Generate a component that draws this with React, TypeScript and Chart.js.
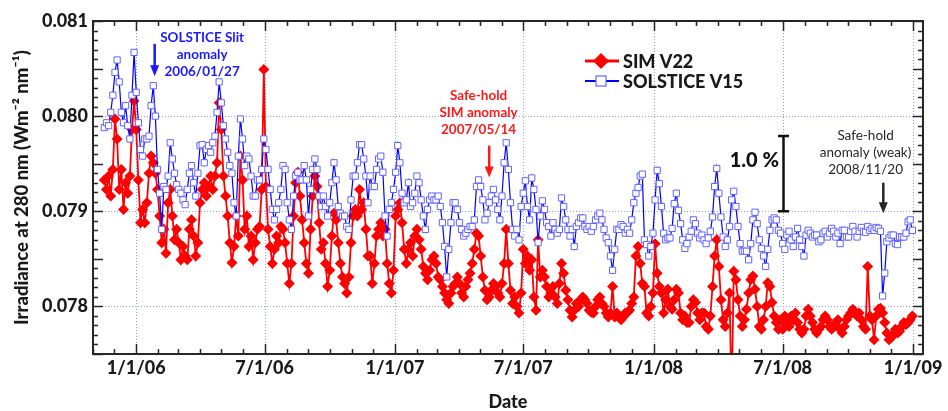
import React, { useEffect, useRef } from 'react';
import { Chart, registerables } from 'chart.js';

Chart.register(...registerables);

// ---------------- data ----------------
// Samples every SAMPLE_STEP_DAYS days starting at FIRST_SAMPLE_DATE.
const FIRST_SAMPLE_DATE = '2005-11-17';
const SAMPLE_STEP_DAYS = 3;

// SIM V22 irradiance at 280 nm (W m^-2 nm^-1)
const simNov05toMay06 = [
  0.07933, 0.07923, 0.07937, 0.07916, 0.07944, 0.07997, 0.07976, 0.07923, 0.07944, 0.07902,
  0.07930, 0.07919, 0.07937, 0.07986, 0.08016, 0.07986, 0.07933, 0.07888, 0.07902, 0.07888,
  0.07909, 0.07940, 0.07958, 0.07951, 0.07940, 0.07923, 0.07895, 0.07867, 0.07881, 0.07856,
  0.07909, 0.07923, 0.07895, 0.07870, 0.07881, 0.07867, 0.07849, 0.07863, 0.07853, 0.07849,
  0.07881, 0.07891, 0.07874, 0.07853, 0.07867, 0.07909, 0.07923, 0.07930, 0.07916, 0.07926,
  0.07937, 0.07923, 0.07937, 0.07951, 0.08014, 0.07986, 0.07937, 0.07916, 0.07895, 0.07867,
  0.07846,
];
const simMay06toNov06 = [
  0.07863, 0.07895, 0.07874, 0.07958, 0.07933, 0.07881, 0.07895, 0.07863, 0.07874, 0.07849,
  0.07867, 0.07881, 0.07884, 0.07923, 0.08049, 0.07926, 0.07881, 0.07863, 0.07845, 0.07860,
  0.07874, 0.07867, 0.07884, 0.07881, 0.07867, 0.07845, 0.07824, 0.07845, 0.07895, 0.07930,
  0.07941, 0.07916, 0.07891, 0.07867, 0.07845, 0.07835, 0.07881, 0.07916, 0.07937, 0.07926,
  0.07888, 0.07860, 0.07867, 0.07845, 0.07821, 0.07838, 0.07874, 0.07898, 0.07891, 0.07867,
  0.07845, 0.07831, 0.07824, 0.07814, 0.07831, 0.07867, 0.07895, 0.07902, 0.07895, 0.07923,
  0.07902, 0.07909, 0.07881, 0.07853,
];
const simNov06toJun07 = [
  0.07853, 0.07824, 0.07845, 0.07874, 0.07881, 0.07888, 0.07874, 0.07881, 0.07845, 0.07824,
  0.07814, 0.07838, 0.07895, 0.07902, 0.07909, 0.07888, 0.07860, 0.07845, 0.07860, 0.07867,
  0.07853, 0.07874, 0.07881, 0.07870, 0.07860, 0.07842, 0.07835, 0.07828, 0.07838, 0.07849,
  0.07853, 0.07845, 0.07831, 0.07828, 0.07821, 0.07814, 0.07807, 0.07803, 0.07814, 0.07821,
  0.07824, 0.07831, 0.07824, 0.07814, 0.07810, 0.07821, 0.07828, 0.07835, 0.07845, 0.07860,
  0.07877, 0.07874, 0.07853, 0.07831, 0.07817, 0.07807, 0.07810, 0.07817, 0.07824, 0.07821,
  0.07814, 0.07810, 0.07824, 0.07845,
];
const simJun07toDec07 = [
  0.07881, 0.07845, 0.07817, 0.07803, 0.07810, 0.07800, 0.07793, 0.07814, 0.07860, 0.07845,
  0.07853, 0.07838, 0.07849, 0.07810, 0.07796, 0.07870, 0.07831, 0.07838, 0.07831, 0.07821,
  0.07810, 0.07814, 0.07821, 0.07810, 0.07803, 0.07824, 0.07845, 0.07835, 0.07817, 0.07807,
  0.07796, 0.07789, 0.07796, 0.07803, 0.07800, 0.07807, 0.07810, 0.07807, 0.07803, 0.07796,
  0.07794, 0.07793, 0.07800, 0.07807, 0.07810, 0.07803, 0.07800, 0.07793, 0.07789, 0.07793,
  0.07821, 0.07789, 0.07793, 0.07789, 0.07786, 0.07789, 0.07793, 0.07794, 0.07796, 0.07803,
  0.07810, 0.07853, 0.07863, 0.07845, 0.07824,
];
const simDec07toJun08 = [
  0.07821, 0.07793, 0.07790, 0.07800, 0.07814, 0.07866, 0.07835, 0.07821, 0.07814, 0.07793,
  0.07807, 0.07818, 0.07800, 0.07797, 0.07807, 0.07818, 0.07814, 0.07793, 0.07786, 0.07790,
  0.07783, 0.07783, 0.07800, 0.07807, 0.07804, 0.07793, 0.07786, 0.07793, 0.07793, 0.07779,
  0.07776, 0.07790, 0.07821, 0.07853, 0.07870, 0.07842, 0.07807, 0.07786, 0.07779, 0.07793,
  0.07814, 0.07700, 0.07837, 0.07828, 0.07807, 0.07790, 0.07779, 0.07786, 0.07797, 0.07814,
  0.07828, 0.07832, 0.07818, 0.07800, 0.07779, 0.07776, 0.07786, 0.07800, 0.07825, 0.07821,
  0.07804, 0.07790, 0.07783, 0.07776,
];
const simJun08toDec08 = [
  0.07786, 0.07776, 0.07790, 0.07783, 0.07779, 0.07790, 0.07786, 0.07793, 0.07783, 0.07776,
  0.07772, 0.07776, 0.07790, 0.07797, 0.07790, 0.07783, 0.07776, 0.07772, 0.07776, 0.07779,
  0.07786, 0.07790, 0.07786, 0.07779, 0.07776, 0.07779, 0.07783, 0.07786, 0.07776, 0.07772,
  0.07779, 0.07786, 0.07790, 0.07793, 0.07797, 0.07793, 0.07790, 0.07793, 0.07786, 0.07779,
  0.07776, 0.07842, 0.07790, 0.07786, 0.07765, 0.07790, 0.07797, 0.07798, 0.07793, 0.07783,
  0.07772, 0.07765, 0.07767, 0.07771, 0.07776, 0.07772, 0.07774, 0.07779, 0.07783, 0.07781,
  0.07783, 0.07786, 0.07790,
];

// SOLSTICE V15 irradiance at 280 nm (W m^-2 nm^-1)
const solNov05toMay06 = [
  0.07988, 0.07993, 0.07990, 0.08004, 0.08022, 0.08046, 0.08059, 0.08036, 0.08004, 0.07993,
  0.08011, 0.07990, 0.07976, 0.08022, 0.08067, 0.08025, 0.07993, 0.07965, 0.07958, 0.07976,
  0.07976, 0.07979, 0.08011, 0.08032, 0.08000, 0.07944, 0.07919, 0.07881, 0.07926, 0.07923,
  0.07937, 0.07972, 0.07955, 0.07940, 0.07928, 0.07923, 0.07919, 0.07912, 0.07907, 0.07923,
  0.07940, 0.07948, 0.07930, 0.07916, 0.07940, 0.07969, 0.07970, 0.07951, 0.07965, 0.07969,
  0.07962, 0.07972, 0.07979, 0.08004, 0.08036, 0.08014, 0.07990, 0.07976, 0.07962, 0.07948,
  0.07940,
];
const solMay06toNov06 = [
  0.07909, 0.07895, 0.07958, 0.07997, 0.07976, 0.07948, 0.07958, 0.07955, 0.07937, 0.07916,
  0.07916, 0.07933, 0.07933, 0.07944, 0.07976, 0.07965, 0.07944, 0.07923, 0.07902, 0.07891,
  0.07902, 0.07909, 0.07923, 0.07948, 0.07944, 0.07909, 0.07891, 0.07881, 0.07916, 0.07937,
  0.07941, 0.07933, 0.07933, 0.07948, 0.07933, 0.07895, 0.07923, 0.07944, 0.07955, 0.07944,
  0.07916, 0.07905, 0.07916, 0.07905, 0.07895, 0.07909, 0.07930, 0.07951, 0.07933, 0.07905,
  0.07898, 0.07895, 0.07895, 0.07884, 0.07881, 0.07912, 0.07937, 0.07937, 0.07951, 0.07970,
  0.07970, 0.07955, 0.07937, 0.07909,
];
const solNov06toJun07 = [
  0.07937, 0.07926, 0.07926, 0.07944, 0.07955, 0.07958, 0.07941, 0.07895, 0.07874, 0.07902,
  0.07909, 0.07923, 0.07941, 0.07969, 0.07951, 0.07919, 0.07909, 0.07912, 0.07930, 0.07905,
  0.07909, 0.07919, 0.07937, 0.07930, 0.07912, 0.07895, 0.07881, 0.07902, 0.07912, 0.07916,
  0.07912, 0.07912, 0.07916, 0.07905, 0.07888, 0.07863, 0.07831, 0.07860, 0.07888, 0.07909,
  0.07909, 0.07902, 0.07888, 0.07881, 0.07874, 0.07877, 0.07881, 0.07884, 0.07884, 0.07891,
  0.07926, 0.07933, 0.07926, 0.07912, 0.07891, 0.07898, 0.07909, 0.07916, 0.07923, 0.07912,
  0.07902, 0.07891, 0.07916, 0.07951,
];
const solJun07toDec07 = [
  0.07972, 0.07944, 0.07909, 0.07881, 0.07874, 0.07881, 0.07870, 0.07905, 0.07919, 0.07932,
  0.07905, 0.07891, 0.07935, 0.07923, 0.07902, 0.07867, 0.07895, 0.07911, 0.07902, 0.07888,
  0.07884, 0.07874, 0.07888, 0.07881, 0.07877, 0.07881, 0.07914, 0.07905, 0.07891, 0.07881,
  0.07874, 0.07881, 0.07863, 0.07884, 0.07888, 0.07893, 0.07893, 0.07884, 0.07881, 0.07884,
  0.07879, 0.07884, 0.07891, 0.07895, 0.07898, 0.07891, 0.07881, 0.07872, 0.07867, 0.07853,
  0.07838, 0.07860, 0.07881, 0.07881, 0.07886, 0.07884, 0.07877, 0.07881, 0.07877, 0.07891,
  0.07909, 0.07919, 0.07925, 0.07937, 0.07939,
];
const solDec07toJun08 = [
  0.07870, 0.07865, 0.07853, 0.07863, 0.07877, 0.07912, 0.07943, 0.07929, 0.07905, 0.07877,
  0.07870, 0.07872, 0.07872, 0.07882, 0.07908, 0.07919, 0.07901, 0.07887, 0.07870, 0.07861,
  0.07866, 0.07873, 0.07879, 0.07891, 0.07887, 0.07877, 0.07872, 0.07875, 0.07870, 0.07866,
  0.07872, 0.07879, 0.07894, 0.07926, 0.07945, 0.07919, 0.07894, 0.07873, 0.07863, 0.07870,
  0.07884, 0.07912, 0.07921, 0.07905, 0.07884, 0.07866, 0.07858, 0.07858, 0.07858, 0.07849,
  0.07866, 0.07891, 0.07899, 0.07887, 0.07870, 0.07861, 0.07853, 0.07842, 0.07860, 0.07880,
  0.07891, 0.07893, 0.07891, 0.07880,
];
const solJun08toDec08 = [
  0.07877, 0.07866, 0.07860, 0.07875, 0.07879, 0.07870, 0.07863, 0.07873, 0.07882, 0.07870,
  0.07863, 0.07853, 0.07875, 0.07880, 0.07877, 0.07873, 0.07875, 0.07875, 0.07868, 0.07870,
  0.07877, 0.07879, 0.07873, 0.07877, 0.07882, 0.07879, 0.07873, 0.07877, 0.07866, 0.07880,
  0.07880, 0.07873, 0.07873, 0.07879, 0.07884, 0.07879, 0.07873, 0.07879, 0.07883, 0.07879,
  0.07878, 0.07884, 0.07880, 0.07882, 0.07880, 0.07883, 0.07882, 0.07879, 0.07811, 0.07835,
  0.07868, 0.07872, 0.07875, 0.07875, 0.07866, 0.07865, 0.07873, 0.07873, 0.07873, 0.07877,
  0.07889, 0.07891, 0.07880,
];

// axis ranges and labelled values
const X_MIN_DATE = '2005-11-01';
const X_MAX_DATE = '2009-01-15';
const Y_MIN = 0.0775;
const Y_MAX = 0.081;
const Y_LABELS = [0.078, 0.079, 0.08, 0.081];
const Y_GRID = [0.078, 0.079, 0.08];

// annotations (dates / irradiance values)
const NOTES = [
  { lines: ['SOLSTICE Slit', 'anomaly', '2006/01/27'], color: '#1a1aff', bold: true, textDate: '2006-04-04', textValue: 0.08082, arrowDate: '2006-01-27', arrowFrom: 0.08076, arrowTo: 0.08042 },
  { lines: ['Safe-hold', 'SIM anomaly', '2007/05/14'], color: '#ff1a1a', bold: true, textDate: '2007-04-29', textValue: 0.08022, arrowDate: '2007-05-14', arrowFrom: 0.07969, arrowTo: 0.079355 },
  { lines: ['Safe-hold', 'anomaly (weak)', '2008/11/20'], color: '#262626', bold: false, textDate: '2008-10-26', textValue: 0.079794, arrowDate: '2008-11-20', arrowFrom: 0.0793, arrowTo: 0.07898 },
];
const ONE_PERCENT_BAR = { label: '1.0 %', labelDate: '2008-05-22', labelValue: 0.079533, date: '2008-07-01', low: 0.079, high: 0.07979 };

// ---------------- helpers ----------------
const DAY_MS = 86400000;
const EPOCH = Date.UTC(2006, 0, 1);
const dayOf = (iso: string) => {
  const [y, m, d] = iso.split('-').map(Number);
  return (Date.UTC(y, m - 1, d) - EPOCH) / DAY_MS;
};
const dateOf = (day: number) => new Date(EPOCH + Math.round(day) * DAY_MS);

const toPoints = (values: number[]) => {
  const start = dayOf(FIRST_SAMPLE_DATE);
  return values.map((v, i) => ({ x: start + i * SAMPLE_STEP_DAYS, y: v }));
};

const simV22 = toPoints([
  ...simNov05toMay06, ...simMay06toNov06, ...simNov06toJun07,
  ...simJun07toDec07, ...simDec07toJun08, ...simJun08toDec08,
]);
const solsticeV15 = toPoints([
  ...solNov05toMay06, ...solMay06toNov06, ...solNov06toJun07,
  ...solJun07toDec07, ...solDec07toJun08, ...solJun08toDec08,
]);

const X_TICKS: number[] = [];
for (let y = 2005, m = 10; Date.UTC(y, m, 1) <= Date.UTC(2009, 0, 1); ) {
  X_TICKS.push((Date.UTC(y, m, 1) - EPOCH) / DAY_MS);
  m++;
  if (m > 11) { m = 0; y++; }
}
const isMajorMonth = (v: number) => {
  const m = dateOf(v).getUTCMonth();
  return m === 0 || m === 6;
};
const Y_TICKS: number[] = [];
for (let k = Math.round(Y_MIN * 10000); k <= Math.round(Y_MAX * 10000); k++) Y_TICKS.push(k / 10000);

const FONT = 'Lato, "Open Sans", sans-serif';
const HEAVY = '900';
const INK = '#1a1a1a';
const GRID_COLOR = 'rgba(110,120,235,0.75)';

const gridPlugin = {
  id: 'dottedGrid',
  beforeDatasetsDraw(chart: any) {
    const { ctx, chartArea: a, scales } = chart;
    const x = scales.x, y = scales.y;
    ctx.save();
    ctx.strokeStyle = GRID_COLOR;
    ctx.lineWidth = 1;
    ctx.setLineDash([1, 2]);
    ctx.beginPath();
    for (const v of X_TICKS) {
      if (!isMajorMonth(v)) continue;
      const px = Math.round(x.getPixelForValue(v)) + 0.5;
      ctx.moveTo(px, a.top);
      ctx.lineTo(px, a.bottom);
    }
    for (const v of Y_GRID) {
      const py = Math.round(y.getPixelForValue(v)) + 0.5;
      ctx.moveTo(a.left, py);
      ctx.lineTo(a.right, py);
    }
    ctx.stroke();
    ctx.restore();
  },
};

function drawArrow(ctx: CanvasRenderingContext2D, x: number, y1: number, y2: number, color: string) {
  const head = 11, half = 4.5;
  ctx.strokeStyle = color;
  ctx.fillStyle = color;
  ctx.lineWidth = 2.5;
  ctx.beginPath();
  ctx.moveTo(x, y1);
  ctx.lineTo(x, y2 - head + 1);
  ctx.stroke();
  ctx.beginPath();
  ctx.moveTo(x - half, y2 - head);
  ctx.lineTo(x + half, y2 - head);
  ctx.lineTo(x, y2);
  ctx.closePath();
  ctx.fill();
}

const framePlugin = {
  id: 'frameAndNotes',
  afterDraw(chart: any) {
    const { ctx, chartArea: a, scales } = chart;
    const x = scales.x, y = scales.y;
    ctx.save();
    // inward tick marks on all four sides
    ctx.strokeStyle = '#262626';
    ctx.lineWidth = 1.5;
    ctx.beginPath();
    for (const v of X_TICKS) {
      const px = Math.round(x.getPixelForValue(v)) + 0.5;
      const len = isMajorMonth(v) ? 10 : 5;
      ctx.moveTo(px, a.bottom);
      ctx.lineTo(px, a.bottom - len);
      ctx.moveTo(px, a.top);
      ctx.lineTo(px, a.top + len);
    }
    for (const v of Y_TICKS) {
      const py = Math.round(y.getPixelForValue(v)) + 0.5;
      const len = Math.round(v * 10000) % 5 === 0 ? 10 : 5;
      ctx.moveTo(a.left, py);
      ctx.lineTo(a.left + len, py);
      ctx.moveTo(a.right, py);
      ctx.lineTo(a.right - len, py);
    }
    ctx.stroke();
    ctx.lineWidth = 2;
    ctx.strokeRect(a.left, a.top, a.right - a.left, a.bottom - a.top);

    // annotations
    ctx.textAlign = 'center';
    ctx.textBaseline = 'middle';
    for (const n of NOTES) {
      ctx.fillStyle = n.color;
      ctx.font = `${n.bold ? 'bold ' : ''}13.5px ${FONT}`;
      const tx = x.getPixelForValue(dayOf(n.textDate));
      const ty = y.getPixelForValue(n.textValue);
      n.lines.forEach((line, i) => ctx.fillText(line, tx, ty + i * 17));
      drawArrow(ctx, x.getPixelForValue(dayOf(n.arrowDate)), y.getPixelForValue(n.arrowFrom), y.getPixelForValue(n.arrowTo), n.color);
    }
    // 1 % bar
    const bx = Math.round(x.getPixelForValue(dayOf(ONE_PERCENT_BAR.date))) + 0.5;
    const by1 = y.getPixelForValue(ONE_PERCENT_BAR.high);
    const by2 = y.getPixelForValue(ONE_PERCENT_BAR.low);
    ctx.strokeStyle = '#111';
    ctx.lineWidth = 2.5;
    ctx.beginPath();
    ctx.moveTo(bx, by1); ctx.lineTo(bx, by2);
    ctx.moveTo(bx - 5.5, by1); ctx.lineTo(bx + 5.5, by1);
    ctx.moveTo(bx - 5.5, by2); ctx.lineTo(bx + 5.5, by2);
    ctx.stroke();
    ctx.fillStyle = '#111';
    ctx.font = `${HEAVY} 20px ${FONT}`;
    ctx.fillText(ONE_PERCENT_BAR.label, x.getPixelForValue(dayOf(ONE_PERCENT_BAR.labelDate)), y.getPixelForValue(ONE_PERCENT_BAR.labelValue));

    // legend
    const lx = a.left + 492, ly = a.top + 40;
    const items = chart.data.datasets;
    items.forEach((ds: any, i: number) => {
      const yy = ly + i * 20;
      ctx.strokeStyle = ds.borderColor;
      ctx.lineWidth = i === 0 ? 3 : 2;
      ctx.beginPath();
      ctx.moveTo(lx, yy); ctx.lineTo(lx + 34, yy);
      ctx.stroke();
      const cx = lx + 16;
      if (i === 0) {
        ctx.fillStyle = ds.pointBackgroundColor;
        ctx.beginPath();
        ctx.moveTo(cx - 8, yy); ctx.lineTo(cx, yy - 8); ctx.lineTo(cx + 8, yy); ctx.lineTo(cx, yy + 8);
        ctx.closePath();
        ctx.fill();
      } else {
        ctx.fillStyle = '#fff';
        ctx.strokeStyle = ds.pointBorderColor;
        ctx.lineWidth = 1.2;
        ctx.fillRect(cx - 5, yy - 5, 10, 10);
        ctx.strokeRect(cx - 5, yy - 5, 10, 10);
      }
      ctx.fillStyle = INK;
      ctx.font = `${HEAVY} 18px ${FONT}`;
      ctx.textAlign = 'left';
      ctx.fillText(ds.label, lx + 38, yy + 1);
    });
    ctx.restore();
  },
};

export default function App() {
  const ref = useRef<HTMLCanvasElement>(null);
  useEffect(() => {
    if (!ref.current) return;
    Chart.defaults.font.family = FONT;
    const chart = new Chart(ref.current, {
      type: 'line',
      data: {
        datasets: [
          {
            label: 'SIM V22',
            data: simV22,
            borderColor: '#ff0000',
            backgroundColor: '#ff0000',
            borderWidth: 1.8,
            pointStyle: 'rectRot',
            pointRadius: 5.5,
            pointBorderWidth: 0,
            pointBackgroundColor: '#ff0000',
            tension: 0,
            order: 1,
          },
          {
            label: 'SOLSTICE V15',
            data: solsticeV15,
            borderColor: '#0000ff',
            backgroundColor: '#ffffff',
            borderWidth: 1.2,
            pointStyle: 'rect',
            pointRadius: 4.4,
            pointBorderWidth: 1,
            pointBorderColor: '#6464ff',
            pointBackgroundColor: '#ffffff',
            tension: 0,
            order: 0,
          },
        ],
      } as any,
      options: {
        responsive: false,
        animation: false,
        devicePixelRatio: 1,
        layout: { padding: { top: 21, right: 25, left: 0, bottom: 0 } },
        plugins: { legend: { display: false }, tooltip: { enabled: false } },
        scales: {
          x: {
            type: 'linear',
            min: dayOf(X_MIN_DATE),
            max: dayOf(X_MAX_DATE),
            afterBuildTicks: (s: any) => { s.ticks = X_TICKS.map((v) => ({ value: v })); },
            afterFit: (s: any) => { s.height = 57; },
            grid: { display: false, drawTicks: false },
            border: { display: false },
            ticks: {
              autoSkip: false,
              maxRotation: 0,
              padding: 3,
              color: INK,
              font: { size: 18, weight: HEAVY },
              callback: (v: any) => {
                if (!isMajorMonth(v)) return '';
                const d = dateOf(v);
                return `${d.getUTCMonth() + 1}/${d.getUTCDate()}/${String(d.getUTCFullYear()).slice(2)}`;
              },
            },
            title: { display: true, text: 'Date', color: INK, font: { size: 18, weight: HEAVY, lineHeight: 1 }, padding: 0 },
          },
          y: {
            type: 'linear',
            min: Y_MIN,
            max: Y_MAX,
            afterBuildTicks: (s: any) => { s.ticks = Y_TICKS.map((v) => ({ value: v })); },
            afterFit: (s: any) => { s.width = 93; },
            grid: { display: false, drawTicks: false },
            border: { display: false },
            ticks: {
              autoSkip: false,
              padding: 5,
              color: INK,
              font: { size: 18, weight: HEAVY },
              callback: (v: any) => (Y_LABELS.some((l) => Math.abs(l - v) < 1e-9) ? Number(v).toFixed(3) : ''),
            },
            title: {
              display: true,
              text: 'Irradiance at 280 nm (Wm\u207B\u00B2 nm\u207B\u00B9)',
              color: INK,
              font: { size: 18.5, weight: HEAVY },
              padding: { top: 11, bottom: 0 },
            },
          },
        },
      } as any,
      plugins: [gridPlugin, framePlugin],
    });
    return () => chart.destroy();
  }, []);
  return (
    <div style={{ position: 'absolute', left: 0, top: 0, width: 948, height: 411, background: '#fff' }}>
      <canvas ref={ref} width={948} height={411} style={{ display: 'block', width: 948, height: 411 }} />
    </div>
  );
}
